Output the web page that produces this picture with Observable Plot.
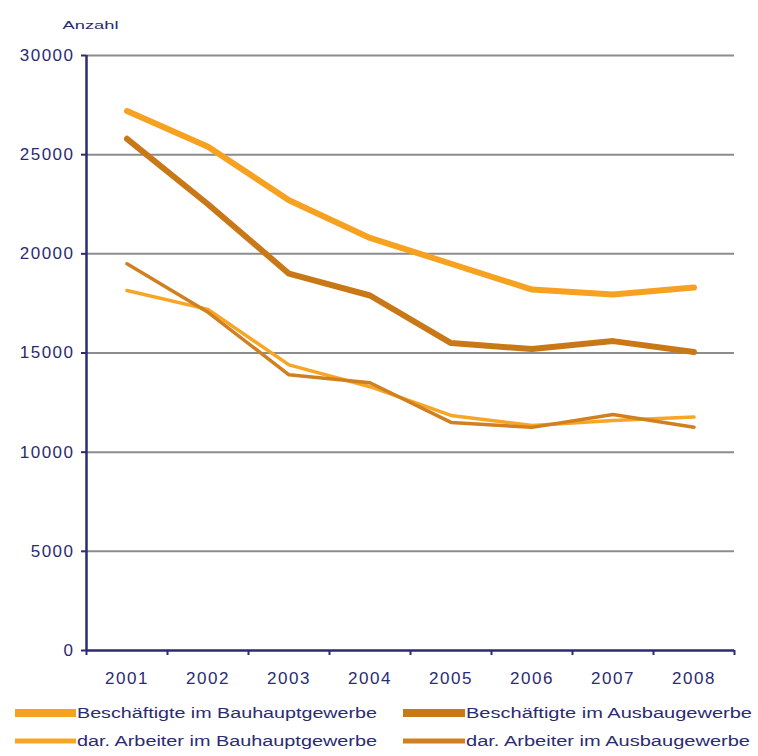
<!DOCTYPE html>
<html>
<head>
<meta charset="utf-8">
<script src="https://cdn.jsdelivr.net/npm/d3@7"></script>
<script src="https://cdn.jsdelivr.net/npm/@observablehq/plot@0.6"></script>
<style>
  html, body { margin: 0; padding: 0; background: #ffffff; }
  #chart svg { display: block; }
  .ax text { letter-spacing: 1.5px; }
</style>
</head>
<body>
<div id="chart"></div>
<script>
// Beschäftigte und Arbeiter im Bau- und Ausbaugewerbe, 2001–2008
const years = [2001, 2002, 2003, 2004, 2005, 2006, 2007, 2008];
const beschBauhaupt = [27200, 25400, 22700, 20800, 19500, 18200, 17950, 18300];
const beschAusbau   = [25800, 22500, 19000, 17900, 15500, 15200, 15600, 15050];
const arbBauhaupt   = [18150, 17200, 14400, 13300, 11850, 11350, 11600, 11770];
const arbAusbau     = [19500, 17050, 13900, 13500, 11500, 11250, 11900, 11260];

const seriesNames = [
  "Beschäftigte im Bauhauptgewerbe",
  "Beschäftigte im Ausbaugewerbe",
  "dar. Arbeiter im Bauhauptgewerbe",
  "dar. Arbeiter im Ausbaugewerbe"
];
const seriesValues = [beschBauhaupt, beschAusbau, arbBauhaupt, arbAusbau];
const seriesColors = ["#f6a11f", "#c97818", "#f7a524", "#d08020"];
const seriesWidths = [6, 6, 3.5, 3.5];

const yTicks = [0, 5000, 10000, 15000, 20000, 25000, 30000];
const yLabel = "Anzahl";

const navy = "#2b2b72";
const W = 758, H = 695;

// one table per series
const rows = seriesNames.map((name, i) =>
  years.map((year, j) => ({series: name, year, value: seriesValues[i][j]}))
);

// band boundaries for the category ticks on the x axis
const bounds = years.map(y => y - 0.5).concat([years[years.length - 1] + 0.5]);

const lineOrder = [0, 1, 2, 3];

const plot = Plot.plot({
  width: W,
  height: H,
  marginLeft: 86,
  marginRight: 24,
  marginTop: 55,
  marginBottom: 45,
  style: {fontFamily: "'Liberation Sans', Arial, sans-serif", color: navy, background: "#ffffff"},
  x: {type: "linear", domain: [bounds[0], bounds[bounds.length - 1]]},
  y: {domain: [yTicks[0], yTicks[yTicks.length - 1]]},
  marks: [
    Plot.ruleY(yTicks.filter(v => v > 0), {stroke: "#8c8c8c", strokeWidth: 2}),
    ...lineOrder.map(i => Plot.line(rows[i], {
      x: "year", y: "value",
      stroke: seriesColors[i], strokeWidth: seriesWidths[i],
      strokeLinecap: "round", strokeLinejoin: "round"
    })),
    Plot.ruleX([bounds[0]], {stroke: navy, strokeWidth: 2.5}),
    Plot.ruleY([0], {stroke: navy, strokeWidth: 2.5}),
    Plot.axisY({
      ticks: yTicks, tickSize: 5, tickPadding: 7, strokeWidth: 2,
      tickFormat: d => String(d), label: null, fontSize: 17, className: "ax"
    }),
    Plot.axisX({
      ticks: bounds, tickSize: 5, strokeWidth: 2,
      tickFormat: () => "", label: null
    }),
    Plot.axisX({
      ticks: years, tickSize: 0, tickPadding: 21,
      tickFormat: d => String(d), label: null, fontSize: 17, className: "ax"
    }),
    Plot.text([yLabel], {
      frameAnchor: "top-left", dx: 4, dy: -34, text: d => d,
      fontSize: 10, fill: navy, textAnchor: "middle", className: "ylab"
    })
  ]
});

// stretch the small axis title horizontally
d3.select(plot).selectAll(".ylab text")
  .attr("textLength", 56).attr("lengthAdjust", "spacingAndGlyphs");

document.getElementById("chart").appendChild(plot);

// legend below the plot: two columns, two rows
const legendH = 756 - H;
const legend = d3.select("#chart").append("svg")
  .attr("width", W).attr("height", legendH)
  .style("font-family", "'Liberation Sans', Arial, sans-serif");

const legendSlots = [
  {i: 0, sx: 15, tx: 77, y: 18, len: 300},
  {i: 1, sx: 403, tx: 466, y: 18, len: 286},
  {i: 2, sx: 15, tx: 77, y: 46, len: 300},
  {i: 3, sx: 403, tx: 466, y: 46, len: 284}
];
legendSlots.forEach(s => {
  legend.append("line")
    .attr("x1", s.sx).attr("x2", s.tx - 1)
    .attr("y1", s.y).attr("y2", s.y)
    .attr("stroke", seriesColors[s.i])
    .attr("stroke-width", s.i < 2 ? 8 : 5);
  legend.append("text")
    .attr("x", s.tx).attr("y", s.y)
    .attr("dominant-baseline", "central")
    .attr("font-size", 14)
    .attr("fill", navy)
    .attr("textLength", s.len)
    .attr("lengthAdjust", "spacingAndGlyphs")
    .text(seriesNames[s.i]);
});
</script>
</body>
</html>
